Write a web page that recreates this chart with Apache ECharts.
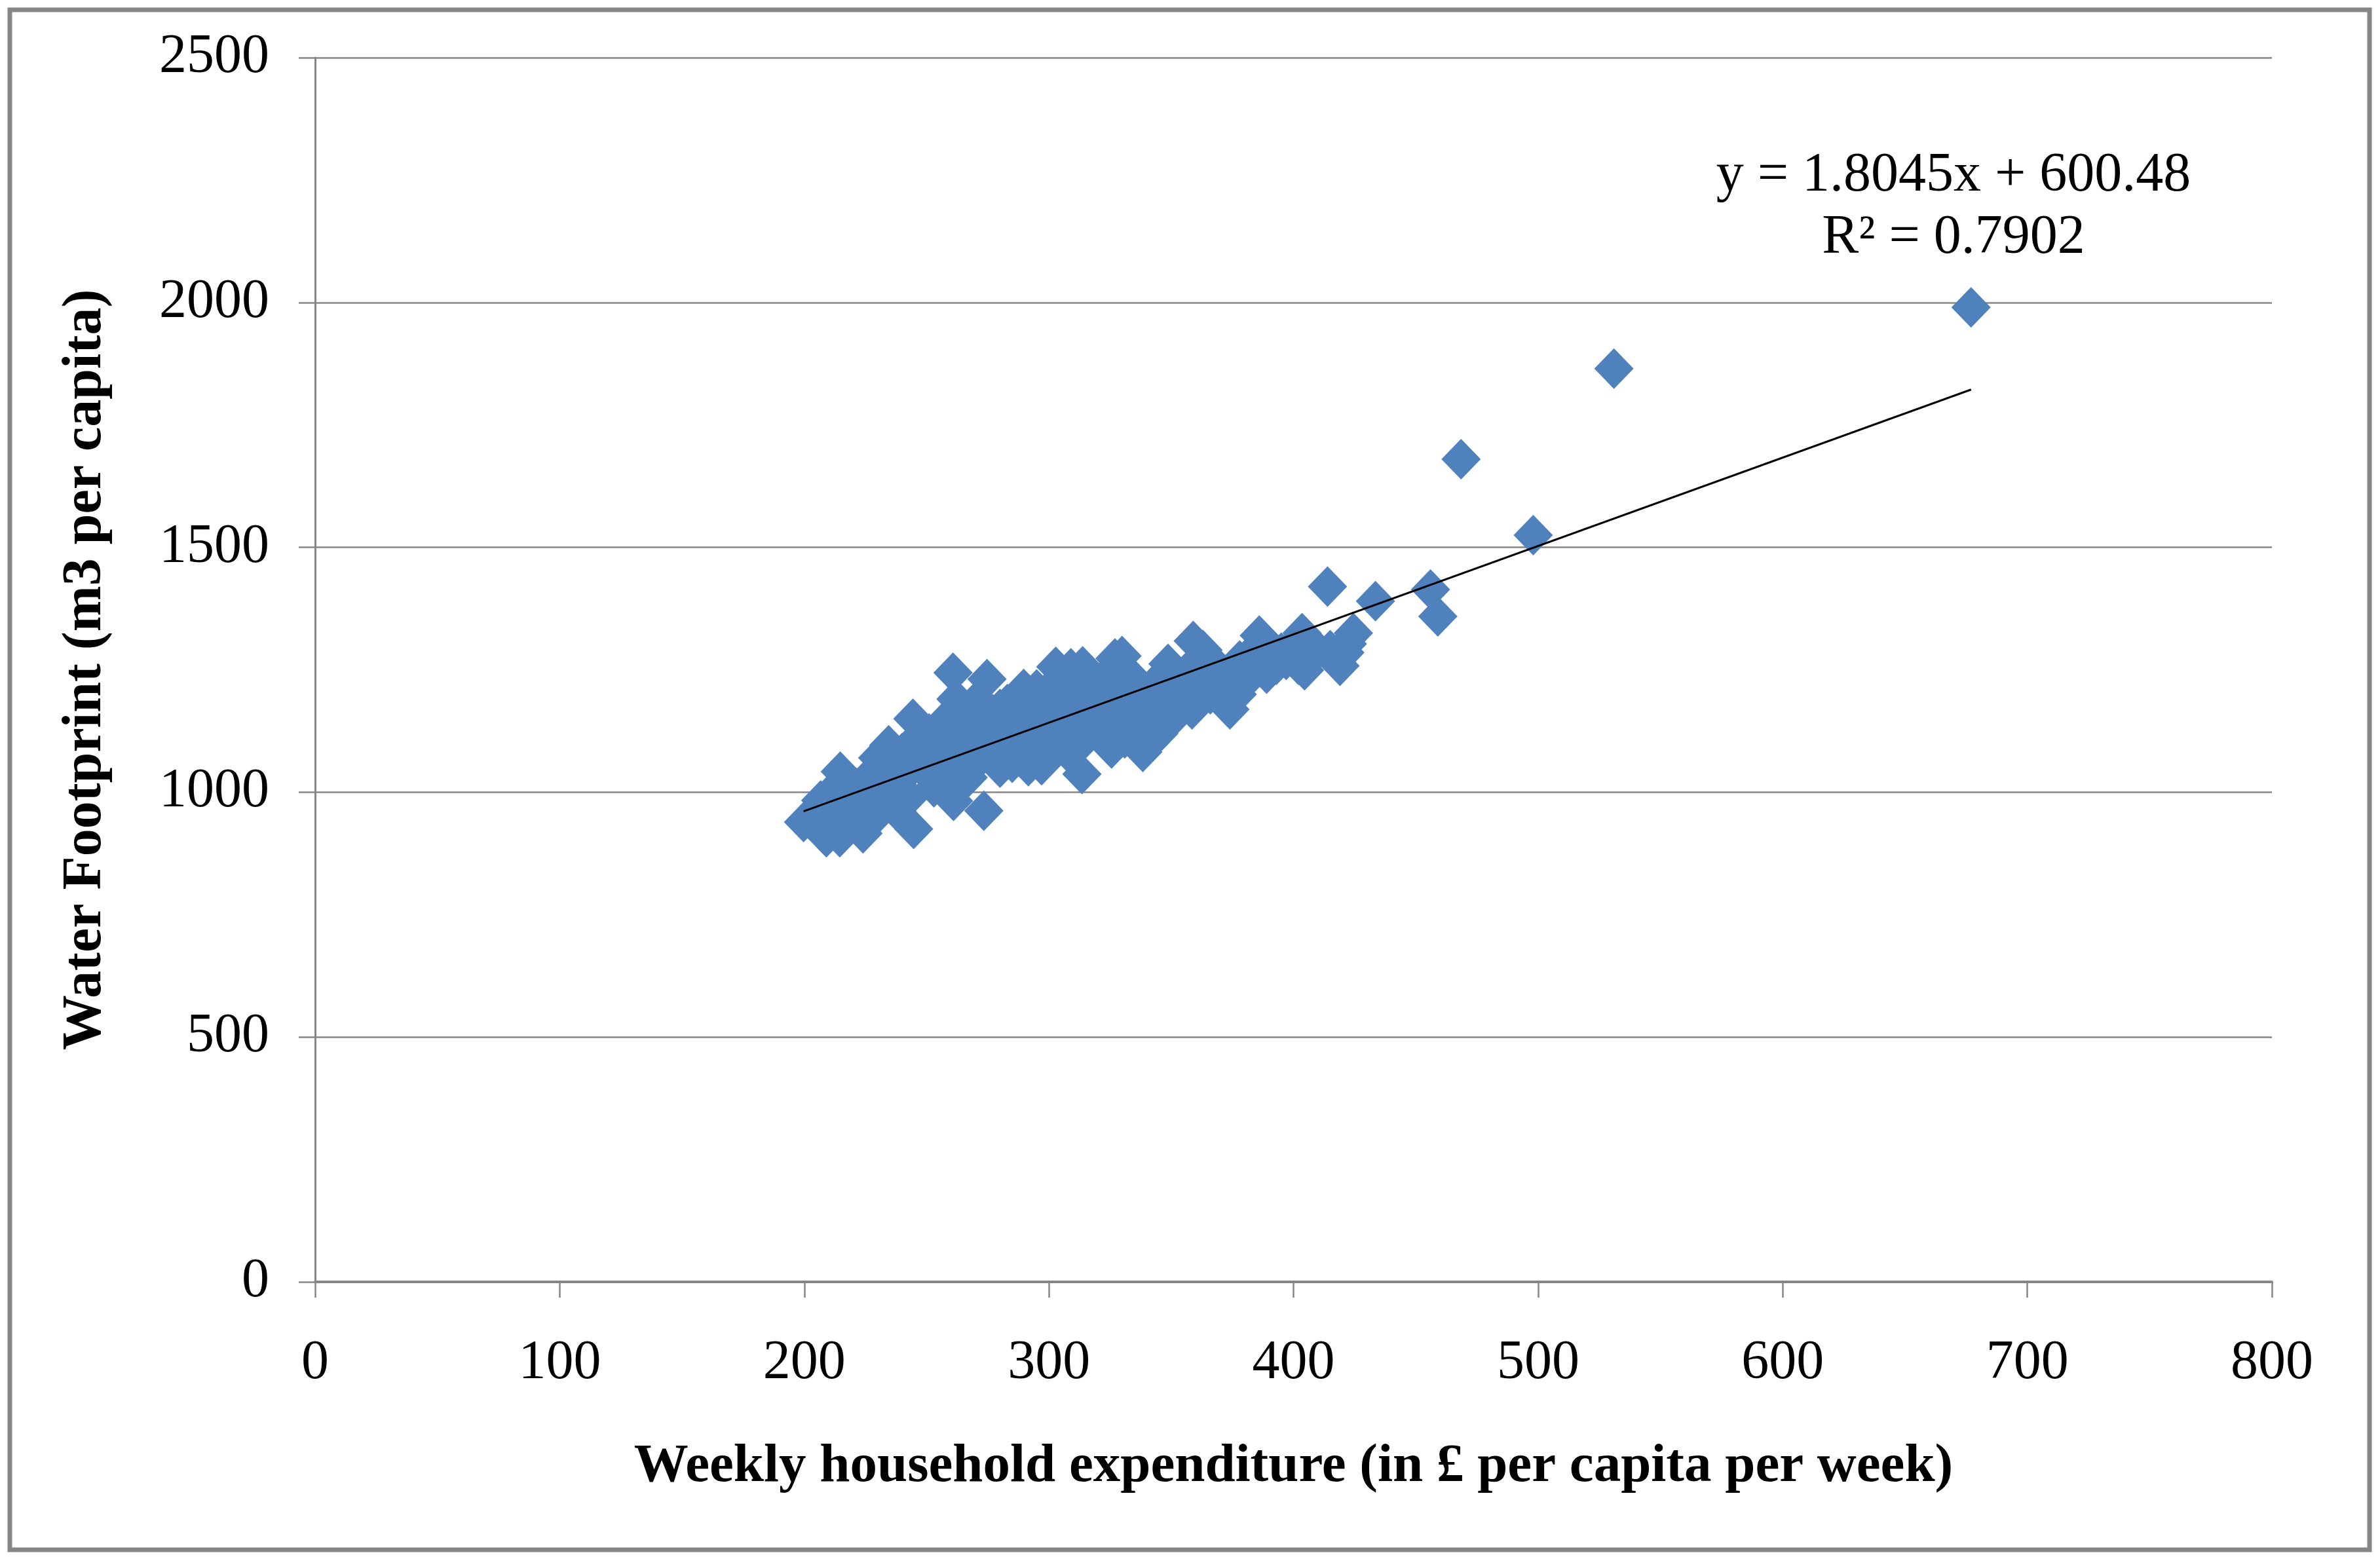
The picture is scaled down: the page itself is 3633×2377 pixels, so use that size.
<!DOCTYPE html>
<html>
<head>
<meta charset="utf-8">
<script src="https://cdn.jsdelivr.net/npm/echarts@6/dist/echarts.min.js"></script>
<style>
html,body{margin:0;padding:0;background:#fff;}
#chart{width:3633px;height:2377px;}
</style>
</head>
<body>
<div id="chart"></div>
<script>
// ---- data ----
const xAxisTitle = 'Weekly household expenditure (in £ per capita per week)';
const yAxisTitle = 'Water Footprint (m3 per capita)';
const xAxisRange = [0, 800, 100];   // min, max, interval
const yAxisRange = [0, 2500, 500];
const trendCoefficients = [1.8045, 600.48]; // slope, intercept
const trendLabels = ['y = 1.8045x + 600.48', 'R\u00B2 = 0.7902'];

// [weekly expenditure, water footprint]
const edgePoints = [
  [199.7,939],[206.7,983],[209,908],[214.5,908],[214.7,1042],[224,916],[234.5,1096],
  [244.4,1150],[244.7,925],[257.6,1147],[260.8,1244],[261,982],[264,1156],[269,1156],
  [273.4,962],[274.7,1231],[289.7,1211],[291.6,1053],[297,1055],[302.8,1256],[309,1253],
  [313.5,1037],[313.8,1257],[325.6,1089],[327,1273],[329.9,1278],[338.4,1082],[348.7,1262],
  [351.8,1157],[358.5,1169],[359,1309],[374,1169],[378,1269],[386,1320],[389,1242],
  [403.5,1325],[404.5,1249],[413.9,1420],[419,1258],[422,1303],[424.5,1325],[433.5,1390]
];
const outlierPoints = [
  [456,1414],[459,1359],[468.5,1680],[498,1525],[531,1865],[677,1990]
];
const innerPoints = [
  [204,950],[207,935],
  [212,960],[211,1000],[218,985],[217,940],
  [221,1010],[223,965],[226,1030],[228,945],
  [231,990],[233,1050],[236,1010],[238,960],[230,1070],
  [240,1080],[242,1040],[243,990],[246,1110],[247,1060],
  [251,1120],[252,1030],[253,1010],[255,1080],
  [258,1110],[259,1050],[260,1010],[262,1190],[263,1130],[265,1080],
  [267,1030],[268,1120],[271,1190],[272,1070],
  [276,1140],[278,1100],[280,1050],[280,1170],
  [283,1180],[284,1130],[286,1070],[287,1160],[288,1110],[285,1060],
  [292,1180],[293,1130],[294,1090],[295,1210],[296,1160],
  [299,1110],[300,1200],[301,1080],[303,1150],[304,1230],
  [306,1180],[307,1120],[308,1080],[310,1210],[311,1160],
  [315,1110],[316,1190],[317,1230],[318,1150],
  [321,1210],[322,1120],[323,1170],[324,1240],[321,1115],
  [328,1150],[330,1200],[331,1110],[333,1240],[334,1170],
  [336,1130],[337,1210],[342,1215],[340,1170],[341,1100],
  [343,1190],[344,1140],[346,1230],[347,1180],[345,1120],
  [350,1200],[352,1240],[353,1190],[355,1220],[356,1180],
  [360,1210],[361,1270],[362,1190],[364,1240],[363,1290],
  [366,1200],[368,1260],[370,1220],[371,1190],
  [373,1240],[375,1210],[377,1200],[379,1230],
  [381,1260],[383,1240],[384,1290],[385,1260],
  [391,1280],[393,1260],[395,1285],[397,1270],
  [400,1300],[401,1280],[402,1260],[406,1300],[408,1280],
  [410,1290],[415,1290],[417,1280],[421,1285]
];

const households = edgePoints.concat(innerPoints, outlierPoints);

// trendline endpoints from the fitted equation over the observed range
const xs = households.map(p => p[0]);
const xMin = Math.min.apply(null, xs), xMax = Math.max.apply(null, xs);
const trendData = [xMin, xMax].map(x => [x, trendCoefficients[0] * x + trendCoefficients[1]]);

const chart = echarts.init(document.getElementById('chart'), null, {renderer: 'canvas'});
const serif = 'Liberation Serif, Times New Roman, serif';
const gray = '#868686';
const plainNumber = v => String(v);

chart.setOption({
  animation: false,
  backgroundColor: '#ffffff',
  grid: {left: 481, right: 165, top: 88, bottom: 420, containLabel: false},
  xAxis: {
    type: 'value',
    min: xAxisRange[0], max: xAxisRange[1], interval: xAxisRange[2],
    name: xAxisTitle,
    nameLocation: 'middle',
    nameGap: 283,
    nameTextStyle: {fontFamily: serif, fontSize: 83, fontWeight: 'bold', color: '#000', verticalAlign: 'middle'},
    axisLine: {show: true, onZero: false, lineStyle: {color: gray, width: 4}},
    axisTick: {show: true, inside: false, length: 24, lineStyle: {color: gray, width: 2.5}},
    axisLabel: {fontFamily: serif, fontSize: 84, color: '#000', margin: 83, formatter: plainNumber},
    splitLine: {show: false}
  },
  yAxis: {
    type: 'value',
    min: yAxisRange[0], max: yAxisRange[1], interval: yAxisRange[2],
    name: yAxisTitle,
    nameLocation: 'middle',
    nameGap: 350,
    nameRotate: 90,
    nameTextStyle: {fontFamily: serif, fontSize: 84, fontWeight: 'bold', color: '#000', verticalAlign: 'middle'},
    axisLine: {show: true, onZero: false, lineStyle: {color: gray, width: 3}},
    axisTick: {show: true, inside: false, length: 25, lineStyle: {color: gray, width: 2.5}},
    axisLabel: {fontFamily: serif, fontSize: 84, color: '#000', margin: 70, formatter: plainNumber},
    splitLine: {show: true, lineStyle: {color: gray, width: 2.5}}
  },
  graphic: [
    {type: 'rect', silent: true, z: -1,
     shape: {x: 15, y: 15, width: 3602, height: 2351},
     style: {fill: 'none', stroke: gray, lineWidth: 7}},
    {type: 'text', x: 2982, y: 269, z: 10,
     style: {text: trendLabels[0], fontFamily: serif, fontSize: 84, fill: '#000', align: 'center', verticalAlign: 'middle'}},
    {type: 'text', x: 2982, y: 364, z: 10,
     style: {text: trendLabels[1], fontFamily: serif, fontSize: 84, fill: '#000', align: 'center', verticalAlign: 'middle'}}
  ],
  series: [
    {
      type: 'scatter',
      data: households,
      symbol: 'diamond',
      symbolSize: [60, 62],
      itemStyle: {color: '#4F81BD', opacity: 1},
      z: 2
    },
    {
      type: 'line',
      data: trendData,
      symbol: 'none',
      lineStyle: {color: '#000000', width: 3},
      z: 5
    }
  ]
});
</script>
</body>
</html>
